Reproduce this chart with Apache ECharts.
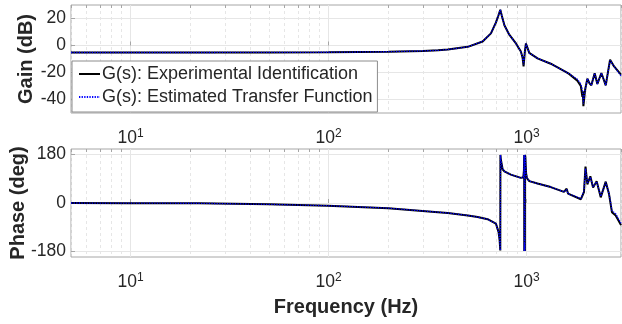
<!DOCTYPE html>
<html>
<head>
<meta charset="utf-8">
<script src="https://cdn.jsdelivr.net/npm/echarts@6/dist/echarts.min.js"></script>
<style>
  html, body { margin: 0; padding: 0; background: #fff; }
  #main { width: 622px; height: 324px; }
</style>
</head>
<body>
<div id="main"></div>
<script>
// frequency grid of the gain curve (Hz)
const gainFreq = [5, 20, 50, 100, 200, 300, 357, 400, 505, 600, 661, 700, 720, 737, 750, 773, 818, 884, 936, 955, 966, 980, 993, 1010, 1032, 1136, 1325, 1577, 1608, 1640, 1806, 1880, 1915, 1925, 1937, 1975, 2029, 2080, 2125, 2209, 2279, 2388, 2450, 2512, 2642, 2768, 3000];
// gain (dB)
const gainExp = [-5.2, -5.2, -5.1, -5.0, -4.6, -4.0, -3.6, -3.0, -1.0, 3.0, 9.0, 17.0, 22.0, 26.5, 22.0, 15.0, 8.0, 1.5, -4.5, -9.0, -15.5, -5.0, 1.5, -1.5, -5.5, -9.5, -13.5, -19.5, -19.0, -21.0, -26.0, -30.0, -38.0, -34.0, -45.0, -33.0, -24.5, -28.0, -29.5, -20.5, -28.5, -20.5, -25.0, -29.5, -10.5, -15.5, -21.5];
const gainEst = [-5.2, -5.2, -5.1, -5.0, -4.6, -4.0, -3.6, -3.0, -1.0, 3.0, 9.0, 17.0, 22.0, 26.5, 22.0, 15.0, 8.0, 1.5, -4.5, -9.0, -14.0, -5.0, 1.5, -1.5, -5.5, -9.5, -13.5, -19.5, -19.0, -21.0, -25.0, -28.5, -33.0, -36.0, -43.0, -33.0, -24.5, -28.0, -29.5, -20.5, -28.5, -20.5, -25.0, -29.5, -11.0, -15.5, -22.5];

// frequency grid of the phase curve (Hz)
const phaseFreq = [5, 10, 22, 50, 99, 200, 357, 400, 505, 566, 636, 700, 722, 731, 737, 738, 742, 757, 773, 833, 936, 963, 970, 973, 974, 978, 981, 982, 986, 990, 995, 1005, 1032, 1136, 1325, 1546, 1594, 1620, 1882, 1924, 1950, 1985, 2029, 2100, 2168, 2260, 2370, 2512, 2610, 2700, 2820, 3000];
// phase (deg)
const phaseExp = [0, -0.5, -1, -5, -10, -19, -34, -37, -46, -52, -60, -76, -107, -137, -176, 178, 160, 125, 117, 105, 93, 95, 120, 178, -178, -150, -178, 178, 170, 140, 110, 92, 81, 72, 59, 41, 53, 35, 14, 11, 40, 135, 69, 99, 57, 81, 21, 79, 33, -34, -46, -82];
const phaseEst = [0, -0.5, -1, -5, -10, -19, -34, -37, -46, -52, -60, -76, -107, -137, -176, 178, 160, 125, 117, 105, 93, 95, 120, 178, -178, -150, -178, 178, 170, 140, 110, 92, 81, 72, 59, 41, 50, 35, 16, 14, 45, 128, 72, 96, 60, 79, 25, 76, 36, -28, -40, -75];

// tick positions
const majorTicks = [10, 100, 1000];
const minorTicks = [5, 6, 7, 8, 9, 20, 30, 40, 50, 60, 70, 80, 90, 200, 300, 400, 500, 600, 700, 800, 900, 2000, 3000];
const gainTicks = [-40, -20, 0, 20];
const phaseTicks = [-180, 0, 180];

const names = ["G(s): Experimental Identification", "G(s): Estimated Transfer Function"];

const font = "Liberation Sans";
const textColor = "#262626";
const boxColor = "#a6a6a6";
const gridColor = "#e6e6e6";

function pairs(xs, ys) {
  return xs.map((x, i) => [x, ys[i]]);
}

function majorAxis(gridIndex, withName) {
  return {
    type: "log",
    logBase: 10,
    gridIndex: gridIndex,
    min: 5,
    max: 3000,
    axisLine: { show: false },
    axisTick: { show: true, inside: true, length: 4, lineStyle: { color: boxColor }, customValues: majorTicks },
    axisLabel: {
      customValues: majorTicks,
      margin: 15,
      formatter: (v) => "{b|10}{s|" + Math.round(Math.log10(v)) + "}",
      rich: {
        b: { fontFamily: font, fontSize: 17.5, color: textColor, lineHeight: 20 },
        s: { fontFamily: font, fontSize: 12, color: textColor, verticalAlign: "top", lineHeight: 12 },
      },
    },
    splitLine: { show: true, lineStyle: { color: gridColor, width: 1 } },
    name: withName ? "Frequency (Hz)" : "",
    nameLocation: "middle",
    nameGap: 40,
    nameMoveOverlap: false,
    nameTextStyle: { fontFamily: font, fontSize: 20, fontWeight: "bold", color: textColor },
  };
}

function minorAxis(gridIndex) {
  return {
    type: "log",
    logBase: 10,
    gridIndex: gridIndex,
    min: 5,
    max: 3000,
    axisLine: { show: false },
    axisTick: { show: true, inside: true, length: 3, lineStyle: { color: boxColor }, customValues: minorTicks },
    axisLabel: { show: false },
    splitLine: { show: true, lineStyle: { color: gridColor, width: 1, type: [3, 3] } },
  };
}

function yAxis(gridIndex, min, max, ticks, title, gap) {
  return {
    type: "value",
    gridIndex: gridIndex,
    min: min,
    max: max,
    axisLine: { show: false },
    axisTick: { show: true, inside: true, length: 4, lineStyle: { color: boxColor }, customValues: ticks },
    axisLabel: { customValues: ticks, margin: 5, fontFamily: font, fontSize: 17.5, color: textColor },
    splitLine: { show: true, lineStyle: { color: gridColor, width: 1 } },
    name: title,
    nameLocation: "middle",
    nameGap: gap,
    nameMoveOverlap: false,
    nameTextStyle: { fontFamily: font, fontSize: 20, fontWeight: "bold", color: textColor },
  };
}

function expSeries(axisIndex, data) {
  return {
    name: names[0],
    type: "line",
    xAxisIndex: axisIndex * 2,
    yAxisIndex: axisIndex,
    data: data,
    symbol: "none",
    lineStyle: { color: "#000000", width: 2 },
    itemStyle: { color: "#000000" },
    z: 2,
  };
}

function estSeries(axisIndex, data) {
  return {
    name: names[1],
    type: "line",
    xAxisIndex: axisIndex * 2,
    yAxisIndex: axisIndex,
    data: data,
    symbol: "none",
    lineStyle: { color: "#0000ff", width: 1.3, type: [1.3, 1.3] },
    itemStyle: { color: "#0000ff" },
    z: 3,
  };
}

const option = {
  animation: false,
  backgroundColor: "#ffffff",
  grid: [
    { left: 71, right: 1, top: 5, height: 108, show: true, borderColor: boxColor, borderWidth: 1, backgroundColor: "transparent", outerBoundsMode: "none" },
    { left: 71, right: 1, top: 149, height: 108, show: true, borderColor: boxColor, borderWidth: 1, backgroundColor: "transparent", outerBoundsMode: "none" },
  ],
  xAxis: [majorAxis(0, false), minorAxis(0), majorAxis(1, true), minorAxis(1)],
  yAxis: [
    yAxis(0, -50, 30, gainTicks, "Gain (dB)", 35),
    yAxis(1, -200, 200, phaseTicks, "Phase (deg)", 43),
  ],
  legend: {
    data: names,
    orient: "vertical",
    left: 72,
    top: 61,
    padding: [4, 5, 6, 6],
    itemGap: 5,
    itemWidth: 21,
    itemHeight: 14,
    itemStyle: { opacity: 0 },
    backgroundColor: "#ffffff",
    borderColor: "#8c8c8c",
    borderWidth: 1,
    borderRadius: 0,
    textStyle: { fontFamily: font, fontSize: 18, color: textColor, padding: [0, 0, 0, -3] },
  },
  series: [
    expSeries(0, pairs(gainFreq, gainExp)),
    estSeries(0, pairs(gainFreq, gainEst)),
    expSeries(1, pairs(phaseFreq, phaseExp)),
    estSeries(1, pairs(phaseFreq, phaseEst)),
  ],
};

const myChart = echarts.init(document.getElementById("main"));
myChart.setOption(option);
</script>
</body>
</html>
